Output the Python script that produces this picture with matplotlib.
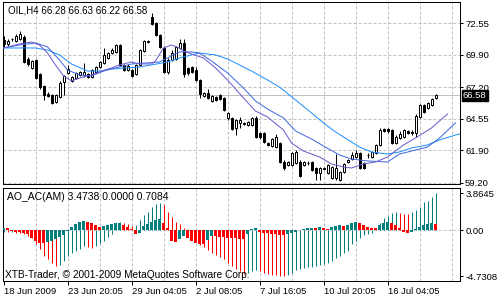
import numpy as np
import matplotlib
matplotlib.use('Agg')
import matplotlib.pyplot as plt
from matplotlib.transforms import blended_transform_factory

# ---------------- values (OIL, H4) ---------------- #
opens = [71.15, 70.82, 71.19, 71.07, 71.24, 71.40, 69.56, 68.81, 69.48, 68.30,
         67.30, 66.63, 66.54, 65.96, 66.38, 67.63, 68.39, 67.72, 67.97, 68.22,
         68.22, 68.30, 68.05, 68.47, 68.89, 69.23, 69.64, 70.06, 70.15, 70.73,
         69.06, 68.64, 68.64, 68.30, 69.06, 70.23, 70.98, 73.08, 72.58, 71.57,
         70.48, 68.47, 69.48, 69.56, 70.48, 70.90, 68.81, 68.89, 68.64, 67.80,
         66.46, 66.71, 66.04, 66.38, 66.54, 66.29, 64.62, 64.62, 63.78, 64.20,
         64.11, 64.03, 64.03, 64.62, 63.36, 63.36, 62.52, 62.27, 62.19, 62.52,
         60.93, 60.68, 60.68, 60.85, 60.93, 60.68, 60.85, 60.93, 60.43, 60.01,
         60.35, 60.01, 59.59, 59.59, 59.43, 60.10, 60.93, 61.18, 61.35, 61.69,
         60.85, 61.48, 61.35, 61.69, 62.36, 63.70, 63.70, 63.61, 62.52, 62.94,
         63.03, 63.53, 63.45, 63.36, 64.70, 65.71, 65.46, 65.71, 66.28]
highs = [71.49, 71.24, 71.32, 71.65, 71.90, 71.57, 69.73, 69.48, 69.56, 68.39,
         67.38, 66.80, 66.63, 66.63, 67.72, 68.22, 69.06, 68.14, 68.47, 68.55,
         69.23, 68.39, 68.72, 68.97, 69.39, 70.48, 70.15, 70.48, 70.82, 70.82,
         69.14, 69.14, 68.72, 69.14, 70.40, 71.15, 71.15, 73.41, 72.66, 71.65,
         70.65, 69.64, 70.31, 70.65, 71.24, 71.24, 68.89, 68.97, 68.89, 67.88,
         66.80, 67.05, 66.54, 66.46, 66.63, 66.38, 65.12, 64.70, 64.53, 64.70,
         64.28, 64.37, 64.70, 64.79, 63.45, 63.45, 62.61, 62.94, 63.28, 62.61,
         61.10, 61.02, 61.77, 61.94, 61.10, 61.02, 61.02, 61.02, 60.51, 60.51,
         60.51, 60.77, 60.60, 61.60, 60.18, 60.85, 61.18, 61.77, 61.94, 61.77,
         60.93, 61.69, 61.85, 62.44, 63.78, 63.78, 63.78, 63.70, 63.19, 63.53,
         63.70, 63.61, 63.61, 64.95, 65.79, 65.79, 65.96, 66.29, 66.63]
lows = [70.57, 70.65, 71.07, 70.98, 71.15, 69.23, 68.97, 68.72, 67.88, 67.05,
        66.13, 66.38, 65.79, 65.87, 66.29, 66.54, 68.30, 67.63, 67.88, 68.14,
        68.05, 67.97, 67.97, 68.39, 68.81, 69.14, 69.56, 69.98, 70.06, 68.97,
        68.55, 68.55, 68.05, 68.22, 68.97, 70.15, 70.90, 72.41, 71.49, 70.48,
        68.39, 68.30, 69.39, 69.48, 70.40, 68.05, 68.22, 68.39, 67.72, 66.29,
        66.38, 66.21, 65.96, 66.04, 66.13, 65.20, 64.45, 63.61, 63.19, 63.78,
        64.03, 63.95, 63.95, 62.94, 62.86, 62.52, 62.27, 62.19, 62.11, 60.85,
        60.26, 60.60, 60.60, 60.77, 59.68, 60.60, 60.68, 60.18, 59.43, 59.43,
        60.26, 59.93, 59.51, 59.43, 59.34, 60.01, 60.85, 61.10, 61.27, 60.35,
        60.35, 61.27, 61.27, 61.60, 62.27, 63.45, 63.36, 62.44, 62.44, 62.86,
        62.94, 63.28, 63.19, 63.03, 64.62, 65.04, 65.37, 65.62, 66.22]
closes = [70.82, 71.07, 71.24, 71.49, 71.65, 69.31, 69.14, 69.39, 67.97, 67.21,
          66.54, 66.46, 65.87, 66.54, 67.55, 68.14, 68.72, 68.05, 68.39, 68.47,
          68.47, 68.05, 68.64, 68.89, 69.31, 69.90, 70.06, 70.31, 70.73, 69.06,
          68.64, 68.97, 68.14, 69.06, 70.31, 71.07, 71.03, 72.49, 71.57, 70.57,
          68.47, 69.48, 70.06, 70.57, 70.90, 68.30, 68.39, 68.47, 67.80, 66.63,
          66.71, 66.29, 66.46, 66.13, 66.21, 65.29, 65.04, 63.70, 64.45, 64.45,
          64.16, 64.28, 64.62, 63.03, 63.03, 62.61, 62.36, 62.86, 63.03, 60.93,
          60.43, 60.93, 61.69, 61.77, 59.76, 60.93, 60.89, 60.26, 60.01, 60.43,
          60.39, 60.68, 60.51, 60.43, 60.10, 60.77, 61.10, 61.52, 61.69, 60.43,
          60.43, 61.52, 61.77, 62.36, 63.61, 63.53, 63.53, 62.52, 63.03, 63.28,
          63.61, 63.36, 63.36, 64.79, 65.71, 65.12, 65.87, 66.21, 66.58]

# three shifted moving averages, sampled along the drawn lines (bar index, price)
lips_bars = [0, 2, 4, 7, 9, 11, 13, 15, 17, 19, 22, 24, 27, 29, 32, 34, 37, 38, 40, 42,
             44, 45, 47, 50, 53, 56, 60, 63, 66, 70, 72, 75, 79, 82, 85, 87, 90, 93, 96,
             100, 103, 107, 111]
lips = [70.48, 70.65, 70.82, 70.98, 70.73, 70.06, 69.06, 68.14, 67.72, 67.97, 68.22,
        68.47, 68.81, 69.06, 69.31, 69.14, 69.14, 69.39, 70.48, 70.73, 70.48, 70.23,
        69.98, 69.64, 68.81, 67.80, 66.29, 65.20, 64.70, 63.61, 62.52, 61.85, 61.35,
        60.77, 60.51, 60.43, 60.77, 60.93, 61.35, 62.36, 62.94, 63.78, 64.95]
teeth_bars = [0, 4, 8, 11, 14, 16, 19, 22, 25, 29, 32, 36, 39, 41, 44, 47, 49, 52, 56,
              60, 63, 66, 70, 73, 77, 80, 84, 87, 91, 96, 99, 102, 106, 109, 113]
teeth = [70.48, 70.73, 70.90, 70.57, 69.48, 68.64, 68.22, 68.14, 68.55, 68.89, 69.14,
         69.23, 69.31, 69.64, 70.15, 70.15, 70.06, 69.39, 68.39, 67.13, 66.04, 65.37,
         64.62, 63.53, 62.86, 62.27, 61.52, 61.18, 61.02, 60.93, 61.60, 61.85, 62.19,
         62.94, 64.20]
jaw_bars = [0, 8, 11, 14, 17, 21, 24, 27, 31, 34, 37, 41, 44, 47, 49, 53, 56, 59, 62,
            66, 69, 73, 77, 80, 83, 87, 89, 92, 96, 99, 102, 106, 109, 113, 116]
jaw = [70.48, 70.48, 70.31, 69.90, 69.14, 68.55, 68.55, 68.72, 68.81, 68.89, 69.06,
       69.31, 69.64, 69.90, 70.06, 69.90, 69.56, 69.06, 68.55, 67.80, 67.21, 66.13,
       65.04, 64.20, 63.45, 62.61, 62.19, 61.77, 61.60, 61.77, 62.11, 62.36, 62.78,
       63.19, 63.45]

# AO_AC(AM): thin histogram and thick histogram, one value per bar
ao = [-0.11, -0.16, -0.11, -0.21, -0.27, -0.32, -0.53, -0.74, -1.38, -1.91,
      -2.65, -2.97, -3.40, -3.71, -3.61, -3.18, -2.65, -2.33, -2.12, -1.91,
      -1.59, -1.70, -1.80, -1.59, -1.27, -1.06, -0.64, -0.32, 0.42, 0.85,
      0.74, 0.64, 0.42, 0.53, 1.06, 1.59, 1.91, 2.44, 2.76, 2.86,
      2.65, 1.91, 1.38, 0.85, 0.64, 0.21, -0.21, -0.64, -1.06, -1.49,
      -1.70, -2.02, -2.33, -2.55, -2.76, -2.97, -3.40, -3.71, -4.03, -4.24,
      -4.46, -4.35, -4.24, -4.14, -4.24, -4.35, -4.46, -4.56, -4.62, -4.67,
      -4.7308, -4.56, -4.35, -4.14, -4.03, -3.93, -3.82, -3.77, -3.71, -3.61,
      -3.50, -3.40, -3.18, -2.86, -2.65, -2.33, -2.12, -1.38, -1.06, -0.74,
      -0.42, -0.32, -0.21, 0.11, 0.74, 1.27, 1.49, 1.80, 1.91, 1.80,
      1.75, 1.70, 1.91, 2.12, 2.44, 2.97, 3.08, 3.50, 3.8645]
ac = [0.27, 0.21, -0.05, -0.11, -0.16, -0.21, -0.32, -0.74, -1.06, -1.27,
      -1.33, -1.17, -1.06, -0.85, -0.64, -0.42, -0.02, 0.32, 0.64, 0.85,
      0.95, 0.85, 0.74, 0.53, 0.32, 0.42, 0.53, 0.64, 0.74, 0.80,
      0.53, 0.32, 0.11, -0.32, -0.21, 0.42, 0.64, 0.85, 1.06, 1.17,
      0.74, 0.21, -1.06, -1.17, -0.85, -0.53, -0.74, -1.06, -1.27, -1.38,
      -1.43, -0.95, -0.60, -0.62, -0.66, -0.70, -0.74, -0.78, -0.82, -0.85,
      -0.90, -0.32, 0.11, 0.21, -0.11, -0.21, -0.27, -0.32, -0.37, -0.42,
      -0.48, -0.32, -0.21, -0.11, 0.01, 0.11, 0.21, 0.27, 0.21, 0.32,
      0.21, 0.16, 0.32, 0.42, 0.53, 0.42, 0.53, 0.74, 0.85, 0.74,
      0.53, 0.32, 0.27, 0.21, 0.53, 0.74, 0.85, 0.74, 0.53, 0.27,
      -0.16, -0.27, -0.16, 0.16, 0.32, 0.53, 0.69, 0.80, 0.7084]

price_ticks = [72.55, 69.90, 67.20, 64.55, 61.90, 59.20]
osc_ticks = [3.8645, 0.0, -4.7308]
osc_labels = ['3.8645', '0.00', '-4.7308']
date_bars = [0, 16, 32, 48, 64, 80, 96]
date_labels = ['18 Jun 2009', '23 Jun 20:05', '29 Jun 04:05', '2 Jul 08:05',
               '7 Jul 16:05', '10 Jul 20:05', '16 Jul 04:05']
last_price = 66.58

# ---------------- style ---------------- #
TEAL = '#008080'
RED = '#FF0000'
GRID = '#C0C0C0'
PX = 0.72  # one pixel in points at 100 dpi
DASH = (0, (3, 2))

plt.rcParams['font.family'] = ['Liberation Sans', 'DejaVu Sans']
plt.rcParams['font.size'] = 6.8

fig = plt.figure(figsize=(5, 3), dpi=100)
ax = fig.add_axes([3 / 500, 1 - 184 / 300, 457 / 500, 182 / 300])
ax2 = fig.add_axes([3 / 500, 1 - 281 / 300, 457 / 500, 93 / 300])

x = np.arange(len(closes))

for a in (ax, ax2):
    a.set_xlim(-0.125, 114.125)
    for v in range(8, 115, 8):
        a.axvline(v, color=GRID, lw=PX, ls=DASH, zorder=0)
    for s in a.spines.values():
        s.set_linewidth(PX)
        s.set_color('black')
    a.yaxis.tick_right()
    a.tick_params(axis='y', direction='out', length=2.2, width=PX, pad=1.5, colors='black')

# ---------------- price panel ---------------- #
ax.set_ylim(59.09, 74.33)
for p in price_ticks:
    ax.axhline(p, color=GRID, lw=PX, ls=DASH, zorder=0)
ax.axhline(last_price, color=GRID, lw=PX, zorder=1)

o = np.array(opens)
c = np.array(closes)
up = c >= o
ax.vlines(x, lows, highs, color='black', lw=PX, zorder=3)
ax.bar(x, np.maximum(np.abs(c - o), 0.02), bottom=np.minimum(o, c), width=0.5,
       color=np.where(up, 'white', 'black'), edgecolor='black', linewidth=PX, zorder=4)

ax.plot(jaw_bars, jaw, color='#1E90FF', lw=PX, zorder=5)
ax.plot(teeth_bars, teeth, color='#4169E1', lw=PX, zorder=5)
ax.plot(lips_bars, lips, color='#6A5ACD', lw=PX, zorder=5)

ax.set_yticks(price_ticks)
ax.set_yticklabels([f'{p:.2f}' for p in price_ticks])
ax.tick_params(axis='x', bottom=False, labelbottom=False)

tr = blended_transform_factory(ax.transAxes, ax.transData)
ax.text((463 - 3) / 457, last_price - 0.05, f'{last_price:.2f}', transform=tr, color='white',
        ha='left', va='center', clip_on=False, zorder=10,
        bbox=dict(boxstyle='square,pad=0.12', fc='black', ec='black'))

# ---------------- oscillator panel ---------------- #
def trend_colors(vals):
    cols = [TEAL]
    for prev, cur in zip(vals[:-1], vals[1:]):
        cols.append(TEAL if cur >= prev else RED)
    return cols

ax2.set_ylim(-5.23, 4.40)
ax2.axhline(0, color=GRID, lw=PX, ls=DASH, zorder=0)
ax2.vlines(x, 0, ao, colors=trend_colors(ao), lw=PX, zorder=2)
ax2.bar(x, ac, width=0.75, color=trend_colors(ac), linewidth=0, zorder=3)

ax2.set_yticks(osc_ticks)
ax2.set_yticklabels(osc_labels)
ax2.set_xticks(date_bars)
ax2.set_xticklabels(date_labels, ha='left')
ax2.tick_params(axis='x', direction='out', length=3, width=PX, pad=1, colors='black')

# ---------------- captions ---------------- #
fig.text(8 / 500, 1 - 10.5 / 300, 'OIL,H4 66.28 66.63 66.22 66.58', fontsize=7, va='center')
fig.text(7 / 500, 1 - 197 / 300, 'AO_AC(AM) 3.4738 0.0000 0.7084', fontsize=7.5, va='center')
fig.text(5 / 500, 1 - 275 / 300, 'XTB-Trader, \u00a9 2001-2009 MetaQuotes Software Corp.',
         fontsize=7.3, va='center')

fig.savefig('out.png', dpi=100, facecolor='white')
